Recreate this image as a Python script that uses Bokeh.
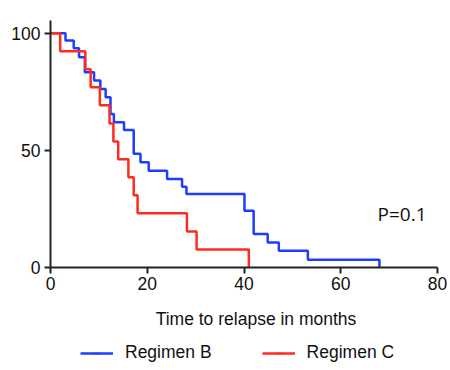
import math
from bokeh.plotting import figure
from bokeh.layouts import column
from bokeh.models import FixedTicker, Legend, LegendItem, Label, Range1d, ColumnDataSource
from bokeh.embed import file_html
from bokeh.resources import INLINE

# Kaplan-Meier curves (months, percent surviving without relapse)
regimen_b_time = [0, 3.1, 4.8, 5.9, 7.1, 9.0, 10.3, 11.4, 12.4, 13.1, 15.2, 17.2, 18.6, 20.3,
                  24.1, 27.2, 28.1, 40.1, 42.0, 44.9, 47.2, 53.2, 68.0]
regimen_b_surv = [100, 96.9, 93.6, 89.7, 83.3, 79.8, 76.2, 72.6, 65.5, 62.0, 58.7, 48.5, 44.9, 41.3,
                  37.8, 34.5, 31.4, 24.2, 14.3, 10.7, 7.1, 3.3, 0]

regimen_c_time = [0, 2.0, 7.2, 8.3, 10.2, 12.2, 13.0, 14.0, 16.1, 17.2, 18.0, 28.2, 30.2, 41.0]
regimen_c_surv = [100, 92.3, 84.6, 76.9, 69.2, 61.5, 53.8, 46.2, 38.5, 30.8, 23.1, 15.4, 7.7, 0]

x_ticks = [0, 20, 40, 60, 80]
y_ticks = [0, 50, 100]
series_names = ["Regimen B", "Regimen C"]
p_value_text = "P=0.1"
x_label = "Time to relapse in months"

BLUE = "#1f3dff"
RED = "#ff2b1c"
AXIS = "#222222"
FS = "17.5px"

p = figure(frame_width=387, frame_height=247, output_backend="svg", toolbar_location=None,
           x_range=Range1d(0, 80), y_range=Range1d(0, 105.4),
           min_border_left=50, min_border_right=10, min_border_top=20, min_border_bottom=0)
p.outline_line_color = None
p.xgrid.visible = False
p.ygrid.visible = False
p.background_fill_color = "white"
p.border_fill_color = "white"

p.step(regimen_b_time, regimen_b_surv, mode="after", line_color=BLUE, line_width=2.5)
p.step(regimen_c_time, regimen_c_surv, mode="after", line_color=RED, line_width=2.5)

for ax in (p.xaxis[0], p.yaxis[0]):
    ax.axis_line_width = 2
    ax.axis_line_color = AXIS
    ax.major_tick_line_width = 2
    ax.major_tick_line_color = AXIS
    ax.major_tick_out = 6
    ax.major_tick_in = 0
    ax.minor_tick_line_color = None
    ax.major_label_text_font = "Liberation Sans"
    ax.major_label_text_font_size = FS
    ax.major_label_text_color = "#111111"

p.xaxis.ticker = FixedTicker(ticks=x_ticks)
p.yaxis.ticker = FixedTicker(ticks=y_ticks)
p.xaxis.major_label_standoff = 3
p.yaxis.major_label_standoff = 4

p.add_layout(Label(x=67.6, y=23, text=p_value_text, text_font="Open Sans",
                   text_font_size="19px", text_color="#111111", text_baseline="middle"))

# strip below the chart: x-axis title and legend
leg = figure(width=447, height=72, output_backend="svg", toolbar_location=None,
             x_axis_type=None, y_axis_type=None, x_range=Range1d(0, 1), y_range=Range1d(0, 1),
             min_border=0)
leg.outline_line_color = None
leg.xgrid.visible = False
leg.ygrid.visible = False

leg.add_layout(Label(x=205.5, y=46, x_units="screen", y_units="screen", text=x_label,
                     text_font="Liberation Sans", text_font_size=FS, text_color="#111111",
                     text_align="center", text_baseline="middle"))

hidden = ColumnDataSource(data=dict(x=[-10, -9], y=[-10, -9]))
lb = leg.line("x", "y", source=hidden, line_color=BLUE, line_width=2.5)
lc = leg.line("x", "y", source=hidden, line_color=RED, line_width=2.5)
mb = leg.scatter("x", "y", source=hidden, marker="dash", angle=math.pi / 2, size=7,
                 line_color=BLUE, line_width=1.5)
mc = leg.scatter("x", "y", source=hidden, marker="dash", angle=math.pi / 2, size=7,
                 line_color=RED, line_width=1.5)
legend = Legend(items=[LegendItem(label=series_names[0], renderers=[lb, mb]),
                       LegendItem(label=series_names[1], renderers=[lc, mc])],
                orientation="horizontal", location=(30, 1),
                label_text_font="Liberation Sans", label_text_font_size=FS,
                label_text_color="#111111", glyph_width=33, glyph_height=18,
                label_height=18, label_standoff=12,
                spacing=50, border_line_color=None, background_fill_alpha=0,
                padding=0, margin=0)
leg.add_layout(legend, "center")

layout = column(p, leg, spacing=0)
open("out.html", "w").write(file_html(layout, INLINE))
